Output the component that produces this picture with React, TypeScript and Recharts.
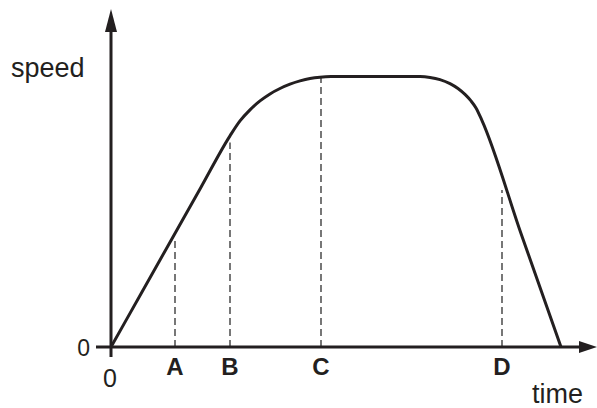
import { ComposedChart, Line, XAxis, YAxis, ReferenceLine, ReferenceDot, Label } from 'recharts';

// curve samples (time, speed)
const times = [
    0, 3, 6, 9, 11.9,
    12.9, 13.9, 14.9, 15.9, 16.9, 17.9, 18.9, 19.9, 20.9, 22,
    30.9, 31.9, 32.9, 33.9, 34.7, 35.4, 36.0, 36.5, 37.08,
    41.0, 45,
];
const speeds = [
    0, 1.97, 3.94, 5.91, 7.81,
    8.36, 8.77, 9.1, 9.36, 9.56, 9.72, 9.84, 9.93, 9.98, 10,
    10, 9.97, 9.89, 9.74, 9.56, 9.34, 9.1, 8.84, 8.39,
    4.2, 0,
];

const xTicks = [0, 6.4, 11.9, 21, 39.1];
const xTickLabels = ['0', 'A', 'B', 'C', 'D'];

const guideTimes = [6.4, 11.9, 21, 39.1];
const guideTops = [4.04, 7.56, 10, 5.81];

const INK = '#231f20';
const FONT = '"Liberation Sans", Arial, sans-serif';

const data = times.map((t, i) => ({ t, v: speeds[i] }));

const XTick = ({ x, y, payload }: any) => {
    const label = xTickLabels[xTicks.indexOf(payload.value)];
    const isZero = label === '0';
    return (
        <text
            x={isZero ? x - 1 : x}
            y={isZero ? y + 40 : y + 28}
            textAnchor="middle"
            fontFamily={FONT}
            fontSize={isZero ? 25 : 24}
            fontWeight={isZero ? 'normal' : 'bold'}
            fill={INK}
        >
            {label}
        </text>
    );
};

const YTick = ({ x, y }: any) => (
    <text x={x - 21} y={y + 9} textAnchor="end" fontFamily={FONT} fontSize={23} fill={INK}>
        0
    </text>
);

const UpArrow = ({ cx, cy }: any) => (
    <polygon points={`${cx},${cy} ${cx - 6},${cy + 23} ${cx + 6},${cy + 23}`} fill={INK} />
);

const RightArrow = ({ cx, cy }: any) => (
    <polygon points={`${cx},${cy} ${cx - 18},${cy - 6} ${cx - 18},${cy + 6}`} fill={INK} />
);

export default function App() {
    return (
        <div style={{ position: 'absolute', left: 0, top: 0, background: '#fff' }}>
            <ComposedChart width={597} height={408} data={data} margin={{ top: 9, right: 0, bottom: 0, left: 0 }}>
                <XAxis
                    dataKey="t"
                    type="number"
                    domain={[0, 48.6]}
                    ticks={xTicks}
                    height={61}
                    axisLine={false}
                    tickLine={false}
                    tickSize={0}
                    tickMargin={0}
                    tick={<XTick />}
                    interval={0}
                >
                    <Label
                        content={({ viewBox }: any) => (
                            <text x={viewBox.x + viewBox.width - 14} y={403} textAnchor="end" fontFamily={FONT} fontSize={27} fill={INK}>
                                time
                            </text>
                        )}
                    />
                </XAxis>
                <YAxis
                    type="number"
                    domain={[0, 12.5]}
                    ticks={[0]}
                    width={111}
                    axisLine={false}
                    tickLine={false}
                    tickSize={0}
                    tickMargin={0}
                    tick={<YTick />}
                >
                    <Label
                        content={() => (
                            <text x={11} y={77} fontFamily={FONT} fontSize={27} fill={INK}>
                                speed
                            </text>
                        )}
                    />
                </YAxis>

                {guideTimes.map((t, i) => (
                    <ReferenceLine
                        key={t}
                        segment={[{ x: t, y: 0 }, { x: t, y: guideTops[i] }]}
                        stroke="#555"
                        strokeWidth={1.6}
                        strokeDasharray="7 4"
                        ifOverflow="visible"
                    />
                ))}

                {/* axes drawn by hand so they can overshoot the origin and carry arrows */}
                <ReferenceLine segment={[{ x: -1.5, y: 0 }, { x: 47, y: 0 }]} stroke={INK} strokeWidth={3} ifOverflow="visible" />
                <ReferenceLine segment={[{ x: 0, y: -0.37 }, { x: 0, y: 11.7 }]} stroke={INK} strokeWidth={3} ifOverflow="visible" />
                <ReferenceDot x={0} y={12.5} ifOverflow="visible" shape={<UpArrow />} />
                <ReferenceDot x={48.6} y={0} ifOverflow="visible" shape={<RightArrow />} />

                <Line
                    type="monotone"
                    dataKey="v"
                    stroke={INK}
                    strokeWidth={3}
                    dot={false}
                    activeDot={false}
                    isAnimationActive={false}
                />
            </ComposedChart>
        </div>
    );
}
